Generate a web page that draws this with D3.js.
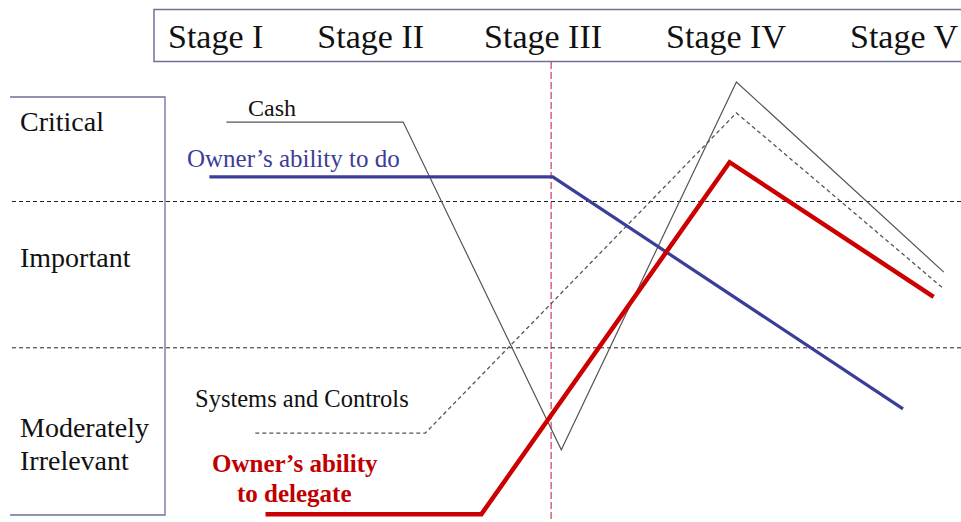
<!DOCTYPE html>
<html>
<head>
<meta charset="utf-8">
<script src="https://cdn.jsdelivr.net/npm/d3@7"></script>
<style>
  body { margin: 0; background: #fff; }
  svg { display: block; }
</style>
</head>
<body>
<svg id="chart" width="961" height="522"></svg>
<script>
// stage headings across the top
var stages = ["Stage I", "Stage II", "Stage III", "Stage IV", "Stage V"];

// importance bands, bottom to top (score range 0..100)
var bandNames = [["Moderately", "Irrelevant"], ["Important"], ["Critical"]];
var bandBreaks = [40, 75];

// x in stage units (0..5), y in importance score (0..100)
var cashX = [0.42, 1.46, 2.39, 3.42, 4.64];
var cashY = [94.0, 94.0, 15.6, 103.6, 58.1];

var systemsX = [0.59, 1.59, 3.42, 4.64];
var systemsY = [19.6, 19.6, 96.2, 54.1];

var doX = [0.32, 2.34, 4.40];
var doY = [80.9, 80.9, 25.4];

var delegateX = [0.65, 1.92, 3.38, 4.58];
var delegateY = [0.2, 0.2, 84.4, 52.2];

var divider = 2.33; // red dashed marker within Stage III

var svg = d3.select("#chart"),
    W = 961, H = 522,
    serif = "'Liberation Serif'";

var x = d3.scaleLinear().domain([0, 5]).range([155, 1005]),
    y = d3.scaleLinear().domain([0, 100]).range([515, 97]);

var frame = "#6f6f98";

// header box with stage names (Stage V runs off the right edge, as in the slide)
svg.append("rect")
    .attr("x", 154).attr("y", 9.5)
    .attr("width", W).attr("height", 52)
    .attr("fill", "none")
    .attr("stroke", frame)
    .attr("stroke-width", 1.5);

var sx = 168;
stages.forEach(function(s, i) {
    var t = svg.append("text")
        .attr("x", sx).attr("y", 48)
        .attr("font-family", serif)
        .attr("font-size", 34)
        .attr("fill", "#111")
        .text(s);
    sx += t.node().getComputedTextLength() + Math.min(54 + 6 * i, 64);
});

// left box for the importance levels
svg.append("path")
    .attr("d", "M10," + y(100) + "H165V" + y(0) + "H10")
    .attr("fill", "none")
    .attr("stroke", frame)
    .attr("stroke-width", 1.3);

// dashed band separators
svg.selectAll("line.band")
    .data(bandBreaks)
    .enter().append("line")
    .attr("class", "band")
    .attr("x1", 12).attr("x2", W)
    .attr("y1", function(d) { return y(d); })
    .attr("y2", function(d) { return y(d); })
    .attr("stroke", "#222")
    .attr("stroke-width", 1)
    .attr("stroke-dasharray", "4,3");

// band names
var bandBase = [437, 267, 131];
bandNames.forEach(function(lines, i) {
    var t = svg.append("text")
        .attr("x", 20).attr("y", bandBase[i])
        .attr("font-family", serif)
        .attr("font-size", 28)
        .attr("fill", "#111");
    lines.forEach(function(l, j) {
        t.append("tspan").attr("x", 20).attr("dy", j ? 33 : 0).text(l);
    });
});

// red vertical marker
svg.append("line")
    .attr("x1", x(divider)).attr("x2", x(divider))
    .attr("y1", 62).attr("y2", H)
    .attr("stroke", "#b8163c")
    .attr("stroke-width", 1)
    .attr("stroke-dasharray", "7,3");

var line = d3.line()
    .x(function(d) { return x(d[0]); })
    .y(function(d) { return y(d[1]); });

var series = [
    {xs: systemsX, ys: systemsY, color: "#555", width: 1.3, dash: "4,3"},
    {xs: cashX, ys: cashY, color: "#555", width: 1.2, dash: null},
    {xs: doX, ys: doY, color: "#3c3c99", width: 3.2, dash: null},
    {xs: delegateX, ys: delegateY, color: "#cc0000", width: 4.5, dash: null}
];

series.forEach(function(s) {
    svg.append("path")
        .datum(d3.zip(s.xs, s.ys))
        .attr("d", line)
        .attr("fill", "none")
        .attr("stroke", s.color)
        .attr("stroke-width", s.width)
        .attr("stroke-linejoin", "miter")
        .attr("stroke-dasharray", s.dash);
});

// series labels
function label(px, py, txt, size, color, bold) {
    svg.append("text")
        .attr("x", px).attr("y", py)
        .attr("font-family", serif)
        .attr("font-size", size)
        .attr("font-weight", bold ? "bold" : "normal")
        .attr("fill", color)
        .text(txt);
}
label(248, 116, "Cash", 24, "#111");
label(187, 167, "Owner\u2019s ability to do", 25, "#3c3c99");
label(195, 407, "Systems and Controls", 24.5, "#111");
label(212, 472, "Owner\u2019s ability", 25, "#c00000", true);
label(237, 502, "to delegate", 25, "#c00000", true);
</script>
</body>
</html>
